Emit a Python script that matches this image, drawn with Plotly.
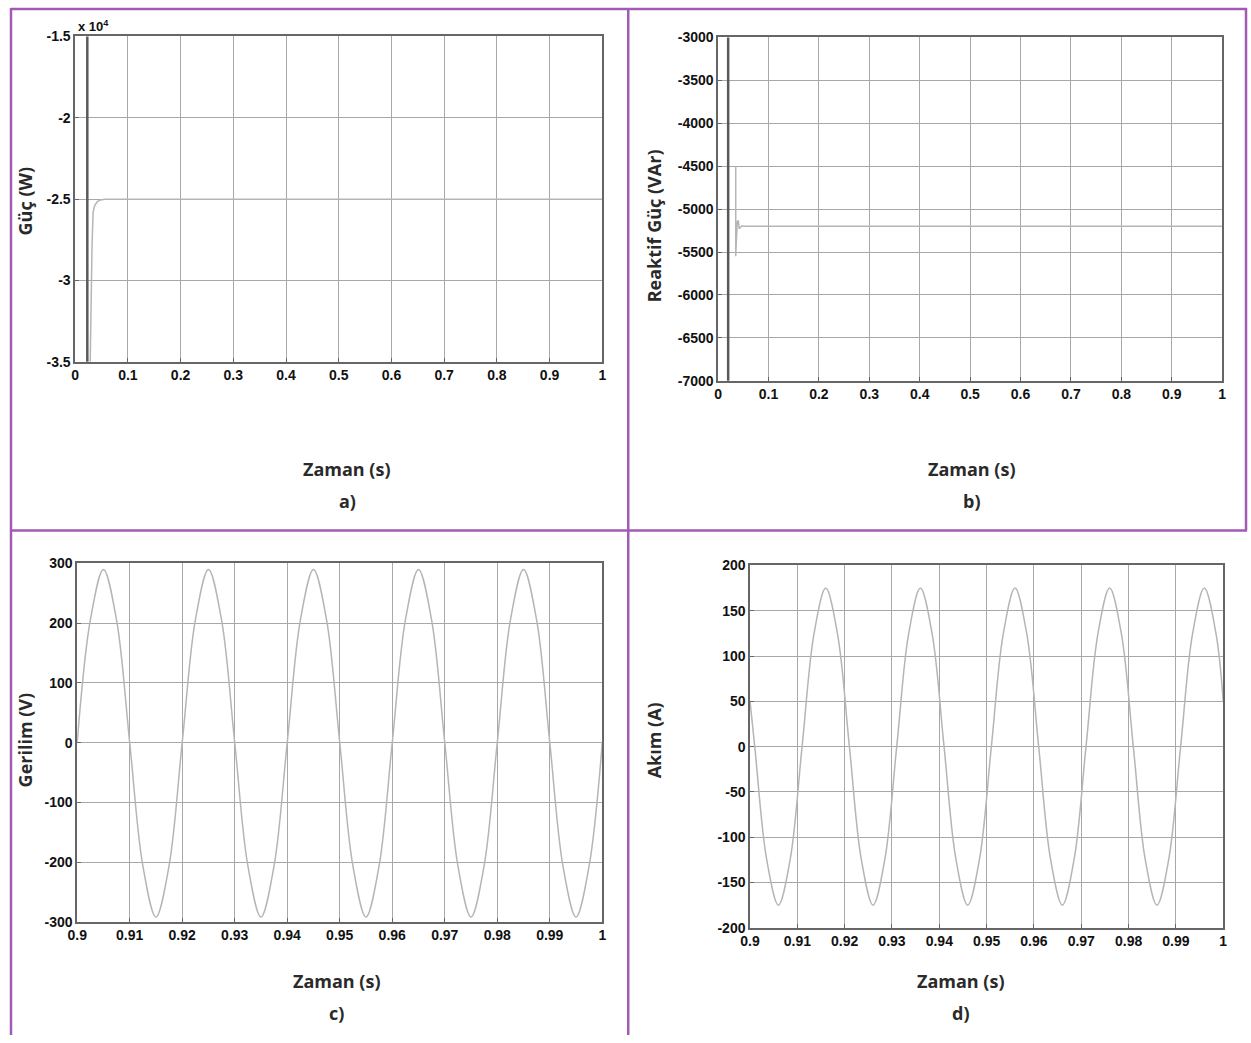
import plotly.graph_objects as go

# ---------- data ----------
# a) active power (W)
a_spike_t = [0.023, 0.023]
a_spike_p = [-14000, -36000]
a_t = [0.028, 0.031, 0.032, 0.034, 0.037, 0.042, 0.048, 0.056, 1.0]
a_p = [-36000, -28200, -27800, -25800, -25400, -25150, -25050, -25000, -25000]

# b) reactive power (VAr)
b_spike_t = [0.02, 0.02]
b_spike_q = [-2900, -7100]
b_t = [0.035, 0.035, 0.036, 0.038, 0.040, 0.042, 0.044, 0.047, 0.05, 1.0]
b_q = [-4500, -5550, -5400, -5150, -5130, -5230, -5220, -5195, -5200, -5200]

# c) voltage (V)
c_t = [0.9, 0.9025, 0.905, 0.9075, 0.91, 0.9125, 0.915, 0.9175,
       0.92, 0.9225, 0.925, 0.9275, 0.93, 0.9325, 0.935, 0.9375,
       0.94, 0.9425, 0.945, 0.9475, 0.95, 0.9525, 0.955, 0.9575,
       0.96, 0.9625, 0.965, 0.9675, 0.97, 0.9725, 0.975, 0.9775,
       0.98, 0.9825, 0.985, 0.9875, 0.99, 0.9925, 0.995, 0.9975, 1.0]
c_v = [0, 205, 290, 205, 0, -206, -292, -206,
       0, 205, 290, 205, 0, -206, -292, -206,
       0, 205, 290, 205, 0, -206, -292, -206,
       0, 205, 290, 205, 0, -206, -292, -206,
       0, 205, 290, 205, 0, -206, -292, -206, 0]

# d) current (A)
d_t = [0.9, 0.901, 0.9035, 0.906, 0.9085, 0.911, 0.9135, 0.916, 0.9185,
       0.921, 0.9235, 0.926, 0.9285, 0.931, 0.9335, 0.936, 0.9385,
       0.941, 0.9435, 0.946, 0.9485, 0.951, 0.9535, 0.956, 0.9585,
       0.961, 0.9635, 0.966, 0.9685, 0.971, 0.9735, 0.976, 0.9785,
       0.981, 0.9835, 0.986, 0.9885, 0.991, 0.9935, 0.996, 0.9985, 1.0]
d_i = [50, 0, -124, -175, -124, 0, 124, 175, 124,
       0, -124, -175, -124, 0, 124, 175, 124,
       0, -124, -175, -124, 0, 124, 175, 124,
       0, -124, -175, -124, 0, 124, 175, 124,
       0, -124, -175, -124, 0, 124, 175, 124, 50]

a_xticks = [0, 0.1, 0.2, 0.3, 0.4, 0.5, 0.6, 0.7, 0.8, 0.9, 1]
a_xlabels = ["0", "0.1", "0.2", "0.3", "0.4", "0.5", "0.6", "0.7", "0.8", "0.9", "1"]
a_yticks = [-35000, -30000, -25000, -20000, -15000]
a_ylabels = ["-3.5", "-3", "-2.5", "-2", "-1.5"]
b_yticks = [-7000, -6500, -6000, -5500, -5000, -4500, -4000, -3500, -3000]
c_xticks = [0.9, 0.91, 0.92, 0.93, 0.94, 0.95, 0.96, 0.97, 0.98, 0.99, 1]
c_xlabels = ["0.9", "0.91", "0.92", "0.93", "0.94", "0.95", "0.96", "0.97", "0.98", "0.99", "1"]
c_yticks = [-300, -200, -100, 0, 100, 200, 300]
d_yticks = [-200, -150, -100, -50, 0, 50, 100, 150, 200]

W, H = 1251, 1043
# measured mapping from figure pixels to the photographed page (body margin + fit)
SX, OX = 0.9905, 9.7
SY, OY = 0.9865, 6.5

SIG = "#b5b5b5"
DARK = "#5a5a5a"
GRID = "#a8a8a8"
FRAME = "#666666"
PURPLE = "#a25bb5"
TICKFONT = dict(family="Liberation Sans Narrow, Arial Narrow, Liberation Sans, Arial", size=14,
                color="#111", weight="bold")
TITLEFONT = dict(family="Open Sans, Noto Sans, sans-serif", size=18, color="#2a2a2a")

fig = go.Figure()

fig.add_trace(go.Scatter(x=a_spike_t, y=a_spike_p, mode="lines", line=dict(color=DARK, width=2.5), xaxis="x", yaxis="y", showlegend=False))
fig.add_trace(go.Scatter(x=a_t, y=a_p, mode="lines", line=dict(color=SIG, width=1.5), xaxis="x", yaxis="y", showlegend=False))
fig.add_trace(go.Scatter(x=b_spike_t, y=b_spike_q, mode="lines", line=dict(color=DARK, width=2.5), xaxis="x2", yaxis="y2", showlegend=False))
fig.add_trace(go.Scatter(x=b_t, y=b_q, mode="lines", line=dict(color=SIG, width=1.5), xaxis="x2", yaxis="y2", showlegend=False))
fig.add_trace(go.Scatter(x=c_t, y=c_v, mode="lines", line=dict(color=SIG, width=1.5, shape="spline"), xaxis="x3", yaxis="y3", showlegend=False))
fig.add_trace(go.Scatter(x=d_t, y=d_i, mode="lines", line=dict(color=SIG, width=1.5, shape="spline"), xaxis="x4", yaxis="y4", showlegend=False))


def px(v):
    f = min(max((v - OX) / SX, 1), W - 1)
    return f / W


def py(v):
    f = min(max((v - OY) / SY, 1), H - 1)
    return 1 - f / H


def ax(dom, rng, tv, tt, anchor):
    return dict(domain=dom, range=rng, tickvals=tv, ticktext=tt, anchor=anchor,
                showgrid=True, gridcolor=GRID, gridwidth=1, zeroline=False,
                showline=True, linecolor=FRAME, linewidth=1.5, mirror=True,
                ticks="inside", ticklen=4, tickcolor=FRAME, ticklabelstandoff=0,
                tickfont=TICKFONT, fixedrange=True)


fig.update_layout(
    width=W, height=H,
    margin=dict(l=0, r=0, t=0, b=0),
    paper_bgcolor="white", plot_bgcolor="white",
    xaxis=ax([px(75), px(603)], [0, 1], a_xticks, a_xlabels, "y"),
    yaxis=ax([py(361), py(35)], [-35000, -15000], a_yticks, a_ylabels, "x"),
    xaxis2=ax([px(719), px(1224)], [0, 1], a_xticks, a_xlabels, "y2"),
    yaxis2=ax([py(380), py(36)], [-7000, -3000], b_yticks, [str(v) for v in b_yticks], "x2"),
    xaxis3=ax([px(77), px(603)], [0.9, 1], c_xticks, c_xlabels, "y3"),
    yaxis3=ax([py(922), py(563)], [-300, 300], c_yticks, [str(v) for v in c_yticks], "x3"),
    xaxis4=ax([px(751), px(1225)], [0.9, 1], c_xticks, c_xlabels, "y4"),
    yaxis4=ax([py(928), py(565)], [-200, 200], d_yticks, [str(v) for v in d_yticks], "x4"),
)

# purple panel borders
shapes = [
    dict(type="line", xref="paper", yref="paper", x0=px(5), x1=px(5), y0=0, y1=1),
    dict(type="line", xref="paper", yref="paper", x0=px(5), x1=1, y0=py(3), y1=py(3)),
    dict(type="line", xref="paper", yref="paper", x0=px(1249), x1=px(1249), y0=py(530), y1=1),
    dict(type="line", xref="paper", yref="paper", x0=px(629), x1=px(629), y0=0, y1=1),
    dict(type="line", xref="paper", yref="paper", x0=px(5), x1=1, y0=py(530), y1=py(530)),
]
for s in shapes:
    s["line"] = dict(color=PURPLE, width=2.5)
fig.update_layout(shapes=shapes)

ann = []


def txt(x, y, s, angle=0, font=TITLEFONT):
    ann.append(dict(x=px(x), y=py(y), xref="paper", yref="paper", text=s,
                    showarrow=False, textangle=angle, font=font,
                    xanchor="center", yanchor="middle"))


txt(25, 200, "<b>Güç (W)</b>", -90)
txt(655, 225, "<b>Reaktif Güç (VAr)</b>", -90)
txt(25, 740, "<b>Gerilim (V)</b>", -90)
txt(655, 740, "<b>Akım (A)</b>", -90)
txt(347, 468, "<b>Zaman (s)</b>")
txt(348, 500, "<b>a)</b>")
txt(973, 468, "<b>Zaman (s)</b>")
txt(973, 500, "<b>b)</b>")
txt(337, 981, "<b>Zaman (s)</b>")
txt(337, 1013, "<b>c)</b>")
txt(962, 981, "<b>Zaman (s)</b>")
txt(962, 1013, "<b>d)</b>")
ann.append(dict(x=px(76), y=py(25), xref="paper", yref="paper", text="<b>x 10<sup>4</sup></b>",
                showarrow=False, font=dict(family=TICKFONT["family"], size=13, color="#111"),
                xanchor="left", yanchor="middle"))
fig.update_layout(annotations=ann)

fig.write_html("out.html")
